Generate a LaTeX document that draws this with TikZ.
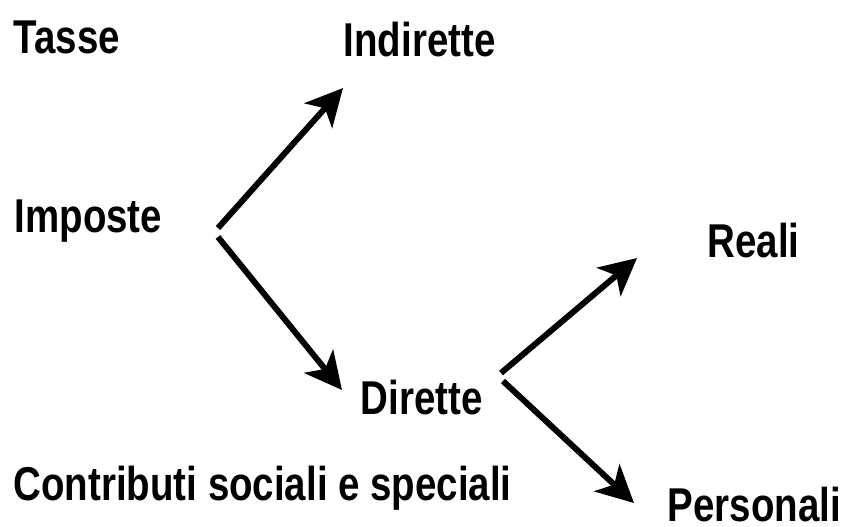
\documentclass[tikz,border=0pt]{standalone}
\usepackage{fontspec}
\setmainfont{Liberation Sans}[FakeStretch=0.81]
\usetikzlibrary{arrows.meta}
\tikzset{
  lbl/.style={anchor=base west, inner sep=0pt, font=\fontsize{13.5}{16}\selectfont\bfseries},
  arr/.style={line width=1.7pt, -{Stealth[length=10.5pt,width=10.5pt,inset=2.8pt]}}
}
\begin{document}
\begin{tikzpicture}[x=0.01cm,y=-0.01cm]
\useasboundingbox (0,0) rectangle (847,526);
\node[lbl] (tasse) at (13,53) {Tasse};
\node[lbl] (indirette) at (343,56) {Indirette};
\node[lbl] (imposte) at (14,232) {Imposte};
\node[lbl] (reali) at (707,257) {Reali};
\node[lbl] (dirette) at (360,414) {Dirette};
\node[lbl] (contributi) at (13,500) {Contributi sociali e speciali};
\node[lbl] (personali) at (667,521) {Personali};
\coordinate (i1) at (218,228);
\coordinate (i2) at (218,237);
\coordinate (t1) at (343,88);
\coordinate (t2) at (342,390);
\coordinate (d1) at (501,373);
\coordinate (d2) at (503,381);
\coordinate (t3) at (637,258);
\coordinate (t4) at (634,503);
\draw[arr] (i1) -- (t1);
\draw[arr] (i2) -- (t2);
\draw[arr] (d1) -- (t3);
\draw[arr] (d2) -- (t4);
\end{tikzpicture}
\end{document}
